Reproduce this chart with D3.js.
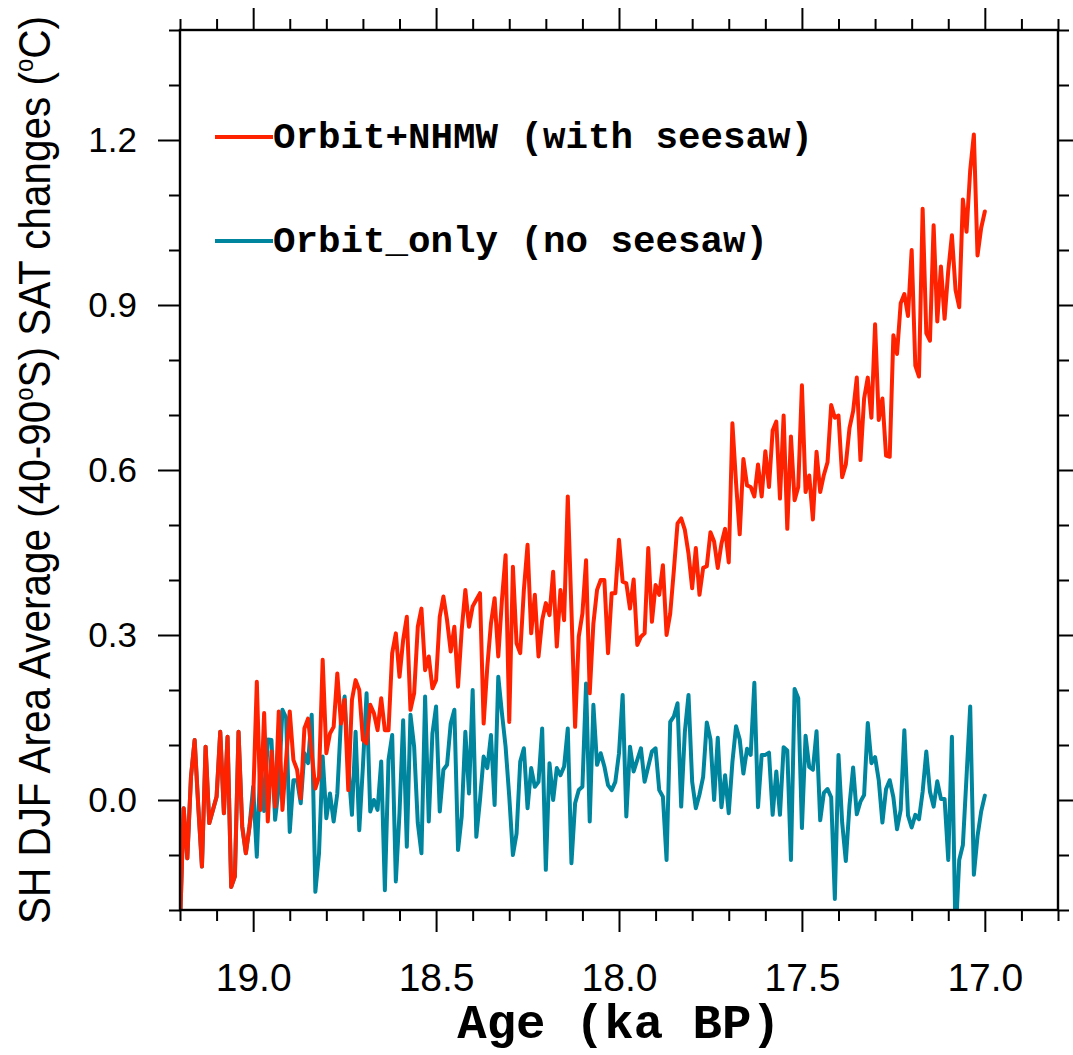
<!DOCTYPE html>
<html>
<head>
<meta charset="utf-8">
<script src="https://cdn.jsdelivr.net/npm/d3@7"></script>
<style>
  html, body { margin: 0; padding: 0; background: #fff; }
  svg { display: block; }
</style>
</head>
<body>
<svg id="chart" width="1073" height="1055"></svg>
<script>
// Southern Hemisphere DJF surface air temperature change, 40-90°S area average,
// decadal samples from 19.20 to 17.00 ka BP.
const ageStart = 19.2;   // ka BP, first sample
const ageStep = 0.01;    // ka between samples

// Orbit + NH meltwater run (bipolar seesaw active)
const withSeesaw = [
  -0.23, -0.015, -0.106, 0.042, 0.109, -0.012, -0.121, 0.097, -0.042, -0.018,
  0.006, 0.124, -0.024, 0.115, -0.158, -0.139, 0.124, -0.048, -0.097, -0.048,
  0.0, 0.215, -0.018, 0.158, -0.039, 0.088, -0.012, 0.161, -0.018, 0.073,
  0.161, 0.073, 0.055, 0.003, 0.130, 0.148, 0.085, 0.021, 0.042, 0.255,
  0.085, 0.121, 0.133, 0.230, 0.139, 0.182, 0.018, 0.182, 0.218, 0.200,
  0.109, 0.103, 0.173, 0.158, 0.127, 0.185, 0.127, 0.127, 0.267, 0.303,
  0.224, 0.291, 0.333, 0.164, 0.194, 0.315, 0.348, 0.236, 0.261, 0.203,
  0.218, 0.333, 0.370, 0.327, 0.270, 0.315, 0.206, 0.309, 0.382, 0.315,
  0.352, 0.364, 0.376, 0.139, 0.242, 0.321, 0.367, 0.261, 0.364, 0.445,
  0.142, 0.424, 0.285, 0.267, 0.382, 0.464, 0.303, 0.373, 0.261, 0.327,
  0.358, 0.336, 0.415, 0.279, 0.382, 0.327, 0.552, 0.345, 0.133, 0.297,
  0.339, 0.436, 0.194, 0.321, 0.382, 0.400, 0.400, 0.267, 0.376, 0.376,
  0.473, 0.397, 0.394, 0.348, 0.401, 0.282, 0.297, 0.303, 0.458, 0.324,
  0.391, 0.373, 0.427, 0.300, 0.339, 0.418, 0.503, 0.512, 0.491, 0.448,
  0.385, 0.458, 0.373, 0.422, 0.425, 0.487, 0.470, 0.422, 0.466, 0.493,
  0.432, 0.685, 0.576, 0.483, 0.620, 0.572, 0.569, 0.552, 0.610, 0.552,
  0.634, 0.569, 0.672, 0.688, 0.548, 0.699, 0.493, 0.661, 0.545, 0.569,
  0.754, 0.560, 0.590, 0.510, 0.633, 0.560, 0.591, 0.614, 0.718, 0.695,
  0.699, 0.587, 0.610, 0.676, 0.707, 0.768, 0.618, 0.730, 0.768, 0.695,
  0.865, 0.691, 0.730, 0.626, 0.624, 0.845, 0.811, 0.903, 0.920, 0.880,
  1.000, 0.790, 0.770, 1.075, 0.849, 0.835, 1.045, 0.870, 0.970, 0.875,
  0.962, 1.027, 0.927, 0.896, 1.092, 1.033, 1.145, 1.210, 0.990, 1.040,
  1.070
];

// Orbit-only run (no seesaw)
const noSeesaw = [
  -0.23, -0.015, -0.106, 0.042, 0.109, -0.012, -0.121, 0.097, -0.042, -0.018,
  0.006, 0.124, -0.024, 0.115, -0.158, -0.139, 0.124, -0.048, -0.097, -0.048,
  0.024, -0.103, 0.070, -0.020, 0.110, 0.109, -0.036, 0.024, 0.164, 0.150,
  -0.058, 0.036, 0.036, -0.006, 0.085, 0.067, 0.155, -0.167, -0.097, 0.079,
  -0.033, 0.012, -0.039, 0.012, 0.145, 0.188, 0.061, -0.027, 0.124, -0.055,
  0.061, 0.194, -0.021, 0.000, -0.018, 0.070, -0.164, 0.073, 0.118, -0.148,
  -0.024, 0.145, -0.085, 0.155, 0.097, -0.042, -0.097, 0.188, -0.039, 0.121,
  0.170, -0.021, 0.055, 0.064, 0.139, 0.164, -0.091, -0.030, 0.124, 0.012,
  0.200, -0.067, 0.000, 0.079, 0.058, 0.118, -0.009, 0.224, 0.158, 0.097,
  0.006, -0.100, -0.061, 0.070, 0.094, -0.015, 0.058, 0.024, 0.033, 0.130,
  -0.127, 0.067, 0.000, 0.058, 0.045, 0.061, 0.130, -0.115, -0.006, 0.018,
  0.024, 0.212, -0.039, 0.173, 0.064, 0.085, 0.061, 0.027, 0.018, 0.033,
  0.085, 0.191, -0.030, 0.097, 0.052, 0.073, 0.094, 0.033, 0.061, 0.088,
  0.094, 0.018, 0.006, -0.109, 0.142, 0.152, 0.176, -0.012, 0.124, 0.191,
  0.033, -0.015, 0.010, 0.042, 0.141, 0.110, 0.000, 0.113, -0.013, 0.045,
  -0.024, 0.069, 0.134, 0.110, 0.048, 0.093, 0.082, 0.213, -0.013, 0.082,
  0.082, 0.086, -0.027, 0.052, -0.027, 0.096, 0.090, -0.109, 0.202, 0.185,
  -0.051, 0.117, 0.060, 0.055, 0.125, -0.037, 0.013, 0.020, 0.005, -0.180,
  0.082, -0.041, -0.111, -0.010, 0.059, -0.026, -0.003, 0.009, 0.140, 0.067,
  0.078, 0.036, -0.041, 0.020, 0.036, 0.005, -0.053, -0.018, 0.127, -0.028,
  -0.050, -0.027, -0.035, 0.015, 0.088, 0.015, -0.012, 0.034, 0.002, 0.002,
  -0.109, 0.115, -0.250, -0.109, -0.082, 0.043, 0.170, -0.136, -0.066, -0.021,
  0.008
];

const seriesNames = ["Orbit+NHMW (with seesaw)", "Orbit_only (no seesaw)"];
const seriesColors = ["#ff2200", "#00859f"];

const xDomain = [19.2, 16.8];
const yDomain = [-0.2, 1.4];
const xMajorTicks = [19.0, 18.5, 18.0, 17.5, 17.0];
const xMinorTicks = [19.2, 19.1, 18.9, 18.8, 18.7, 18.6, 18.4, 18.3, 18.2, 18.1,
                     17.9, 17.8, 17.7, 17.6, 17.4, 17.3, 17.2, 17.1, 16.9, 16.8];
const yMajorTicks = [0.0, 0.3, 0.6, 0.9, 1.2];
const yMinorTicks = [-0.2, -0.1, 0.1, 0.2, 0.4, 0.5, 0.7, 0.8, 1.0, 1.1, 1.3, 1.4];

const svg = d3.select("#chart");
const W = 1073, H = 1055;
const plot = { left: 180, top: 30, right: 1058, bottom: 910 };

const x = d3.scaleLinear().domain(xDomain).range([plot.left, plot.right]);
const y = d3.scaleLinear().domain(yDomain).range([plot.bottom, plot.top]);

const ages = withSeesaw.map((_, i) => +(ageStart - i * ageStep).toFixed(2));

svg.append("rect").attr("width", W).attr("height", H).attr("fill", "#fff");

svg.append("defs").append("clipPath").attr("id", "plot-clip")
  .append("rect")
  .attr("x", plot.left).attr("y", plot.top)
  .attr("width", plot.right - plot.left).attr("height", plot.bottom - plot.top);

// Data lines: the no-seesaw run underneath, the seesaw run on top
const line = d3.line().x((d, i) => x(ages[i])).y(d => y(d));
const lines = svg.append("g").attr("clip-path", "url(#plot-clip)");
[noSeesaw, withSeesaw].forEach((vals, k) => {
  const colour = k === 0 ? seriesColors[1] : seriesColors[0];
  lines.append("path")
    .datum(vals)
    .attr("d", line)
    .attr("fill", "none")
    .attr("stroke", colour)
    .attr("stroke-width", 4)
    .attr("stroke-linejoin", "round")
    .attr("stroke-linecap", "round");
});

// Axes: outward major and minor ticks on all four sides
const tickStyle = g => {
  g.select(".domain").remove();
  g.selectAll(".tick line").attr("stroke", "#000").attr("stroke-width", 2);
};
const majorLen = 22, minorLen = 11;

svg.append("g").attr("transform", `translate(0,${plot.bottom})`)
  .call(d3.axisBottom(x).tickValues(xMinorTicks).tickSize(minorLen).tickFormat(""))
  .call(tickStyle);
svg.append("g").attr("transform", `translate(0,${plot.bottom})`)
  .call(d3.axisBottom(x).tickValues(xMajorTicks).tickSize(majorLen).tickPadding(31)
        .tickFormat(d3.format(".1f")))
  .call(tickStyle)
  .call(g => g.selectAll("text")
    .attr("font-family", "'Liberation Sans', Arial, sans-serif")
    .attr("font-size", 39).attr("fill", "#000"));

svg.append("g").attr("transform", `translate(0,${plot.top})`)
  .call(d3.axisTop(x).tickValues(xMinorTicks).tickSize(minorLen).tickFormat(""))
  .call(tickStyle);
svg.append("g").attr("transform", `translate(0,${plot.top})`)
  .call(d3.axisTop(x).tickValues(xMajorTicks).tickSize(majorLen).tickFormat(""))
  .call(tickStyle);

svg.append("g").attr("transform", `translate(${plot.left},0)`)
  .call(d3.axisLeft(y).tickValues(yMinorTicks).tickSize(minorLen).tickFormat(""))
  .call(tickStyle);
svg.append("g").attr("transform", `translate(${plot.left},0)`)
  .call(d3.axisLeft(y).tickValues(yMajorTicks).tickSize(majorLen).tickPadding(21)
        .tickFormat(d3.format(".1f")))
  .call(tickStyle)
  .call(g => g.selectAll("text")
    .attr("font-family", "'Liberation Sans', Arial, sans-serif")
    .attr("font-size", 35).attr("fill", "#000"));

svg.append("g").attr("transform", `translate(${plot.right},0)`)
  .call(d3.axisRight(y).tickValues(yMinorTicks).tickSize(minorLen).tickFormat(""))
  .call(tickStyle);
svg.append("g").attr("transform", `translate(${plot.right},0)`)
  .call(d3.axisRight(y).tickValues(yMajorTicks).tickSize(majorLen).tickFormat(""))
  .call(tickStyle);

// Plot frame
svg.append("rect")
  .attr("x", plot.left).attr("y", plot.top)
  .attr("width", plot.right - plot.left).attr("height", plot.bottom - plot.top)
  .attr("fill", "none").attr("stroke", "#000").attr("stroke-width", 2.4);

// Legend
const legendRows = [
  { name: seriesNames[0], colour: seriesColors[0], y: 137 },
  { name: seriesNames[1], colour: seriesColors[1], y: 241 }
];
const legend = svg.append("g");
legendRows.forEach(r => {
  legend.append("line")
    .attr("x1", 215).attr("x2", 273).attr("y1", r.y).attr("y2", r.y)
    .attr("stroke", r.colour).attr("stroke-width", 4);
  legend.append("text")
    .attr("x", 273).attr("y", r.y + 11)
    .attr("font-family", "'Liberation Mono', 'Courier New', monospace")
    .attr("font-weight", "bold")
    .attr("font-size", 37.5)
    .attr("fill", "#000")
    .text(r.name);
});

// Axis titles
svg.append("text")
  .attr("x", (plot.left + plot.right) / 2).attr("y", 1038)
  .attr("text-anchor", "middle")
  .attr("font-family", "'Liberation Mono', 'Courier New', monospace")
  .attr("font-weight", "bold")
  .attr("font-size", 49)
  .attr("fill", "#000")
  .text("Age (ka BP)");

const yTitle = svg.append("text")
  .attr("transform", `translate(50,${(plot.top + plot.bottom) / 2}) rotate(-90)`)
  .attr("text-anchor", "middle")
  .attr("font-family", "'Liberation Sans', Arial, sans-serif")
  .attr("font-size", 44)
  .attr("fill", "#000")
  .attr("textLength", 908)
  .attr("lengthAdjust", "spacingAndGlyphs");
yTitle.append("tspan").text("SH DJF Area Average (40-90");
yTitle.append("tspan").attr("font-size", 26).attr("dy", -17).text("o");
yTitle.append("tspan").attr("dy", 17).text("S) SAT changes (");
yTitle.append("tspan").attr("font-size", 26).attr("dy", -17).text("o");
yTitle.append("tspan").attr("dy", 17).text("C)");
</script>
</body>
</html>
